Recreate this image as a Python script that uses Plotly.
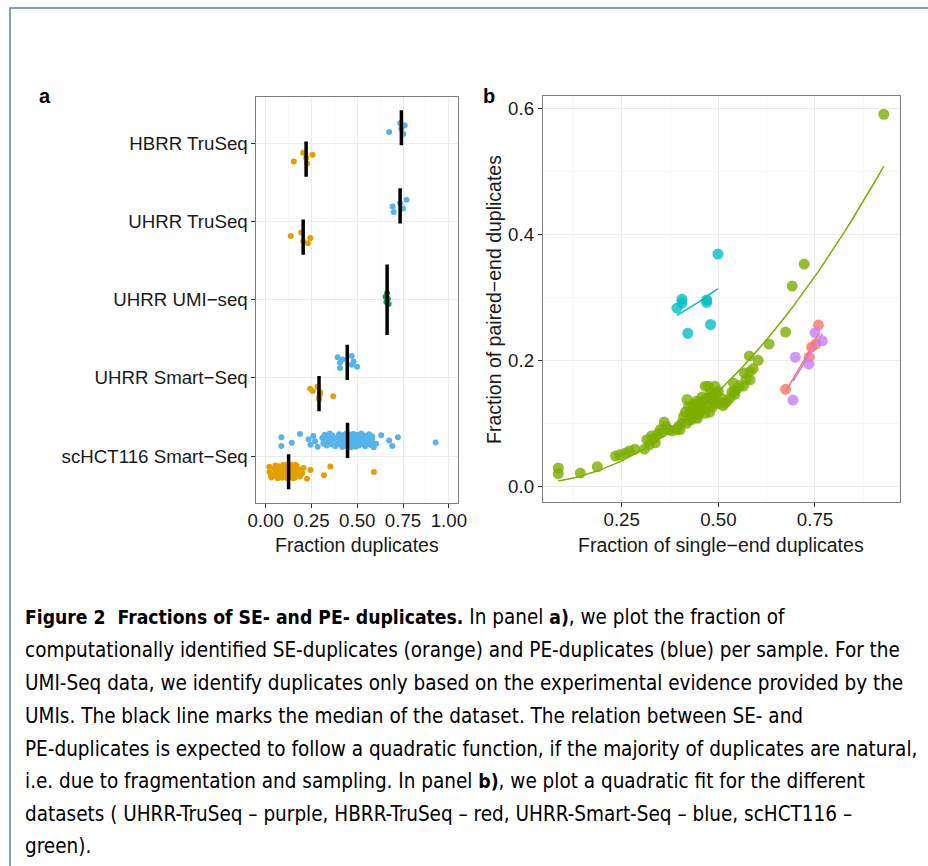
import numpy as np
import plotly.graph_objects as go

W, H = 928, 866

# ---------------- data ----------------
categories = ["scHCT116 Smart−Seq", "UHRR Smart−Seq", "UHRR UMI−seq", "UHRR TruSeq", "HBRR TruSeq"]

# per-sample duplicate fractions (single-end / paired-end)
hbrr_truseq_se = [0.674, 0.735, 0.741, 0.752, 0.759]
hbrr_truseq_pe = [0.154, 0.205, 0.221, 0.226, 0.256]

uhrr_truseq_se = [0.693, 0.699, 0.734, 0.750, 0.769]
uhrr_truseq_pe = [0.137, 0.205, 0.194, 0.244, 0.231]

uhrr_smart_se = [0.393, 0.406, 0.406, 0.421, 0.470, 0.470, 0.480, 0.499]
uhrr_smart_pe = [0.283, 0.297, 0.291, 0.243, 0.296, 0.292, 0.257, 0.369]

uhrr_umi = [0.655, 0.659, 0.663, 0.667, 0.671]

schct_se = [0.086, 0.086, 0.143, 0.187, 0.234, 0.245, 0.260, 0.270, 0.284,
            0.309, 0.315, 0.322, 0.327, 0.333, 0.337, 0.343, 0.350, 0.355, 0.360, 0.365, 0.371, 0.380, 0.392, 0.397, 0.401, 0.405,
            0.410, 0.415, 0.418, 0.419, 0.423, 0.425, 0.428, 0.431, 0.433, 0.436, 0.438, 0.440, 0.442, 0.445, 0.446, 0.448, 0.450, 0.452, 0.455, 0.457,
            0.458, 0.460, 0.432, 0.434, 0.466, 0.466, 0.437, 0.470, 0.441, 0.474, 0.474, 0.443, 0.478, 0.480, 0.483, 0.485, 0.487, 0.491, 0.495, 0.495,
            0.500, 0.504, 0.508, 0.512, 0.517, 0.522, 0.530, 0.535,
            0.539, 0.543, 0.543, 0.548, 0.555, 0.565, 0.567, 0.572, 0.582, 0.582, 0.590, 0.580, 0.603,
            0.631, 0.674, 0.691, 0.722, 0.928]
schct_pe = [0.029, 0.020, 0.021, 0.031, 0.048, 0.050, 0.053, 0.056, 0.059,
            0.059, 0.074, 0.066, 0.080, 0.076, 0.069, 0.083, 0.090, 0.086, 0.102, 0.095, 0.090, 0.088, 0.090, 0.095, 0.090, 0.100,
            0.111, 0.118, 0.100, 0.138, 0.127, 0.105, 0.120, 0.106, 0.113, 0.116, 0.125, 0.130, 0.110, 0.120, 0.108, 0.132, 0.115, 0.125, 0.128, 0.122,
            0.142, 0.135, 0.118, 0.124, 0.116, 0.159, 0.130, 0.140, 0.121, 0.127, 0.159, 0.135, 0.118, 0.150, 0.143, 0.126, 0.138, 0.159, 0.148, 0.132,
            0.151, 0.132, 0.140, 0.128, 0.132, 0.135, 0.140, 0.150,
            0.164, 0.151, 0.146, 0.155, 0.160, 0.159, 0.180, 0.170, 0.169, 0.182, 0.187, 0.207, 0.200,
            0.226, 0.245, 0.318, 0.353, 0.591]

x_ticks_a = [0, 0.25, 0.5, 0.75, 1.0]
x_ticklabels_a = ["0.00", "0.25", "0.50", "0.75", "1.00"]
x_ticks_b = [0.25, 0.5, 0.75]
x_ticklabels_b = ["0.25", "0.50", "0.75"]
y_ticks_b = [0.0, 0.2, 0.4, 0.6]
y_ticklabels_b = ["0.0", "0.2", "0.4", "0.6"]

BOLD = '<span style="font-size:19.2px"><b>{}</b></span>'
caption_lines = [
    BOLD.format("Figure 2  Fractions of SE- and PE- duplicates.") + " In panel " + BOLD.format("a)")
    + ", we plot the fraction of",
    "computationally identified SE-duplicates (orange) and PE-duplicates (blue) per sample. For the",
    "UMI-Seq data, we identify duplicates only based on the experimental evidence provided by the",
    "UMIs. The black line marks the median of the dataset. The relation between SE- and",
    "PE-duplicates is expected to follow a quadratic function, if the majority of duplicates are natural,",
    "i.e. due to fragmentation and sampling. In panel " + BOLD.format("b)") + ", we plot a quadratic fit for the different",
    "datasets ( UHRR-TruSeq – purple, HBRR-TruSeq – red, UHRR-Smart-Seq – blue, scHCT116 –",
    "green).",
]

# ---------------- styling ----------------
ORANGE, SKY, TEAL = "#E69F00", "#56B4E9", "#009E73"
HUE = {"HBRR TruSeq": "#F8766D", "scHCT116": "#7CAE00",
       "UHRR Smart-Seq": "#00BFC4", "UHRR TruSeq": "#C77CFF"}
FONT = "Liberation Sans, Arial, Helvetica, sans-serif"
CAP_FONT = "DejaVu Sans Condensed, Liberation Sans Narrow, sans-serif"
TXT = "#1a1a1a"
GRID, MINOR = "#ebebeb", "#f7f7f7"
BORDER = "#7f7f7f"

# the page body keeps an 8px gutter on each side, so the drawing area is 912px wide
X0, XW = 8.0, 912.0


def px_x(p):
    return (p - X0) / XW


def px_y(p):
    return 1 - p / H


def jitter(n, amp, phase=0.31):
    return [((i * 0.6180339887 + phase) % 1 - 0.5) * 2 * amp for i in range(n)]


fig = go.Figure()

# ---------------- panel a: strip plot ----------------
groups_a = [
    # (category index, values, colour, vertical offset, median half-width)
    (5, hbrr_truseq_se, SKY, 0.2, 0.225),
    (5, hbrr_truseq_pe, ORANGE, -0.2, 0.225),
    (4, uhrr_truseq_se, SKY, 0.2, 0.225),
    (4, uhrr_truseq_pe, ORANGE, -0.2, 0.225),
    (3, uhrr_umi, TEAL, 0.0, 0.45),
    (2, uhrr_smart_se, SKY, 0.2, 0.225),
    (2, uhrr_smart_pe, ORANGE, -0.2, 0.225),
    (1, schct_se, SKY, 0.2, 0.225),
    (1, schct_pe, ORANGE, -0.2, 0.225),
]
for k, (cat, vals, col, off, hw) in enumerate(groups_a):
    centre = cat + off
    ys = [centre + j for j in jitter(len(vals), 0.09, phase=0.13 * k + 0.2)]
    fig.add_trace(go.Scatter(x=vals, y=ys, mode="markers", xaxis="x", yaxis="y",
                             marker=dict(color=col, size=6, line=dict(width=0)),
                             showlegend=False, hoverinfo="x"))
for cat, vals, col, off, hw in groups_a:
    centre = cat + off
    med = float(np.median(vals))
    fig.add_trace(go.Scatter(x=[med, med], y=[centre - hw, centre + hw], mode="lines",
                             xaxis="x", yaxis="y", line=dict(color="black", width=3.5),
                             showlegend=False, hoverinfo="skip"))

# ---------------- panel b: SE vs PE with quadratic fits y = a + b*x^2 ----------------
groups_b = [
    ("HBRR TruSeq", hbrr_truseq_se, hbrr_truseq_pe),
    ("scHCT116", schct_se, schct_pe),
    ("UHRR Smart-Seq", uhrr_smart_se, uhrr_smart_pe),
    ("UHRR TruSeq", uhrr_truseq_se, uhrr_truseq_pe),
]
for name, xs, ys in groups_b:
    fig.add_trace(go.Scatter(x=xs, y=ys, mode="markers", xaxis="x2", yaxis="y2",
                             marker=dict(color=HUE[name], size=11, opacity=0.8, line=dict(width=0)),
                             showlegend=False, name=name))
for name, xs, ys in groups_b:
    xa = np.asarray(xs)
    b, a = np.polyfit(xa ** 2, ys, 1)
    gx = np.linspace(xa.min(), xa.max(), 80)
    fig.add_trace(go.Scatter(x=gx, y=a + b * gx ** 2, mode="lines", xaxis="x2", yaxis="y2",
                             line=dict(color=HUE[name], width=1.5),
                             showlegend=False, hoverinfo="skip"))

# ---------------- axes ----------------
axis_common = dict(showline=True, mirror=True, linecolor=BORDER, linewidth=1,
                   ticks="outside", ticklen=4, tickwidth=1, tickcolor="#333333",
                   showgrid=True, gridcolor=GRID, gridwidth=1, zeroline=False,
                   tickfont=dict(family=FONT, size=18.7, color=TXT))

fig.update_layout(
    xaxis=dict(domain=[px_x(256), px_x(458)], range=[-0.05, 1.05], anchor="y",
               tickmode="array", tickvals=x_ticks_a, ticktext=x_ticklabels_a,
               ticklabelstandoff=-3,
               minor=dict(tickmode="array", tickvals=[0.125, 0.375, 0.625, 0.875],
                          showgrid=True, gridcolor=MINOR, ticks=""),
               **axis_common),
    yaxis=dict(domain=[px_y(503), px_y(96.5)], range=[0.4, 5.6], anchor="x",
               tickmode="array", tickvals=[1, 2, 3, 4, 5], ticktext=categories,
               **axis_common),
    xaxis2=dict(domain=[px_x(543), px_x(901)], range=[0.046, 0.970], anchor="y2",
                tickmode="array", tickvals=x_ticks_b, ticktext=x_ticklabels_b,
                ticklabelstandoff=-3,
                minor=dict(tickmode="array", tickvals=[0.125, 0.375, 0.625, 0.875],
                           showgrid=True, gridcolor=MINOR, ticks=""),
                **axis_common),
    yaxis2=dict(domain=[px_y(502), px_y(96)], range=[-0.025, 0.62], anchor="x2",
                tickmode="array", tickvals=y_ticks_b, ticktext=y_ticklabels_b,
                minor=dict(tickmode="array", tickvals=[0.1, 0.3, 0.5],
                           showgrid=True, gridcolor=MINOR, ticks=""),
                **axis_common),
    width=W, height=H, margin=dict(l=0, r=0, t=0, b=0), autosize=False,
    paper_bgcolor="white", plot_bgcolor="white",
    font=dict(family=FONT, color=TXT),
)

annotations = [
    dict(text="<b>a</b>", x=px_x(44), y=px_y(96), font=dict(size=20, family=FONT, color="black")),
    dict(text="<b>b</b>", x=px_x(489), y=px_y(96), font=dict(size=20, family=FONT, color="black")),
    dict(text="Fraction duplicates", x=px_x(357), y=px_y(545), font=dict(size=19.5, family=FONT, color=TXT)),
    dict(text="Fraction of single−end duplicates", x=px_x(722), y=px_y(545),
         font=dict(size=19.5, family=FONT, color=TXT)),
    dict(text="Fraction of paired−end duplicates", x=px_x(494), y=px_y(299), textangle=-90,
         font=dict(size=19.5, family=FONT, color=TXT)),
]
for a in annotations:
    a.update(xref="paper", yref="paper", showarrow=False, xanchor="center", yanchor="middle")

caption_y = [617, 650, 683, 716, 749, 781, 814, 846]
for line, yc in zip(caption_lines, caption_y):
    annotations.append(dict(text=line, x=px_x(22), y=px_y(yc), xref="paper", yref="paper",
                            showarrow=False, xanchor="left", yanchor="middle",
                            font=dict(size=20.5, family=CAP_FONT, color="black")))
fig.update_layout(annotations=annotations)

# frame around the figure
frame = dict(type="path", xref="paper", yref="paper",
             path=f"M {px_x(9)},{px_y(H + 5)} L {px_x(9)},{px_y(8)} L {px_x(W + 5)},{px_y(8)}",
             line=dict(color="#5b7db1", width=1.5))
fig.update_layout(shapes=[frame])

fig.write_html("out.html", config={"responsive": False})
